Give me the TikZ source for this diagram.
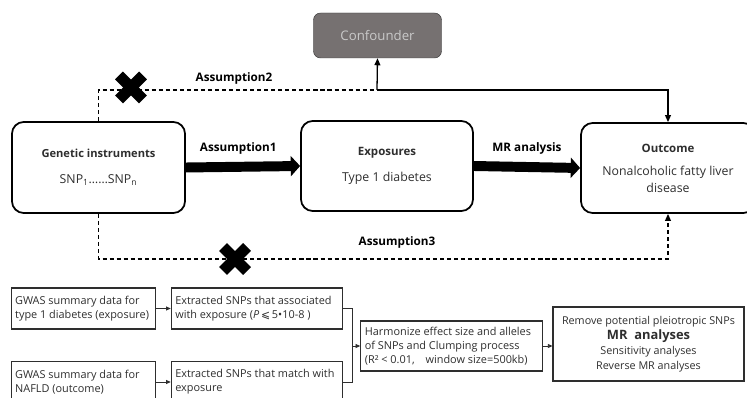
\documentclass[tikz,border=0pt]{standalone}
\usepackage{fontspec}
\setmainfont{Open Sans}
\newfontfamily\symfont{DejaVu Sans}
\usetikzlibrary{arrows.meta}
\definecolor{confgray}{HTML}{767171}
\definecolor{conftext}{HTML}{C9C9C9}
\definecolor{textgray}{HTML}{2E2E2E}

\begin{document}
\begin{tikzpicture}[x=0.03cm, y=-0.03cm,
	main/.style = {draw, line width=1.5pt, rounded corners=10pt, align=center, text=textgray, font=\fontsize{10.5}{14}\selectfont},
	conf/.style = {draw=black!80, fill=confgray, text=conftext, rounded corners=6pt, minimum width=3.84cm, minimum height=1.35cm, font=\fontsize{11.3}{13}\selectfont},
	sub/.style = {draw=textgray, line width=0.9pt, align=flush left, text=textgray, inner xsep=3.5pt, font=\fontsize{9.3}{12}\selectfont},
	lab/.style = {text=black, font=\bfseries\fontsize{10}{12}\selectfont},
	fat/.style = {line width=8.5pt, -{Triangle[width=17pt,length=8pt]}},
	dashline/.style = {line width=1.1pt, dash pattern=on 3.5pt off 2.5pt},
	link/.style = {line width=1.1pt, -{Triangle[width=5pt,length=6pt]}},
	small/.style = {draw=textgray, line width=0.8pt},
	cross/.style = {line width=9.5pt}]

	\path[use as bounding box, clip] (0,0) rectangle (747,398);

	% upper part
	\node[conf] (conf) at (377.5,35.5) {Confounder};
	\node[main, minimum width=5.19cm, minimum height=2.73cm] (gen) at (98.5,167.5) {{\bfseries\fontsize{9.5}{12}\selectfont Genetic instruments}\\[8pt]SNP\textsubscript{1}……SNP\textsubscript{n}};
	\node[main, minimum width=5.16cm, minimum height=2.7cm] (exp) at (387,166) {{\bfseries\fontsize{9.8}{12}\selectfont Exposures}\\[8pt]Type 1 diabetes};
	\node[main, minimum width=5.22cm, minimum height=2.7cm] (out) at (668,168) {{\bfseries\fontsize{9.8}{12}\selectfont Outcome}\\[6pt]Nonalcoholic fatty liver\\disease};

	\coordinate (jct) at (377,90);

	\draw[fat] (gen.east) -- node[lab, above=3pt, xshift=-4pt] (a1) {Assumption1} (exp.west);
	\draw[fat] (exp.east) -- node[lab, above=3pt] (mr) {MR analysis} (out.west);

	\draw[dashline] (gen.north) |- (jct);
	\draw[link] (jct) -- (conf.south);
	\draw[link] (jct) -| (out.north);
	\draw[dashline, -{Triangle[width=5pt,length=6pt]}] (gen.south) |- (235,259) -| (out.south);

	\node[lab] (a2) at (234,78) {Assumption2};
	\node[lab] (a3) at (397,242) {Assumption3};

	\foreach \cx/\cy in {131/87.5, 235/259} {
		\draw[cross] (\cx-12,\cy-12) -- (\cx+12,\cy+12);
		\draw[cross] (\cx-12,\cy+12) -- (\cx+12,\cy-12);
	}

	% lower part
	\node[sub, text width=4.1cm, minimum height=1.23cm] (g1) at (83.5,308.5) {GWAS summary data for\\type 1 diabetes (exposure)};
	\node[sub, text width=4.9cm, minimum height=1.23cm] (e1) at (257,308.5) {Extracted SNPs that associated\\with exposure ({\itshape P}\,{\symfont ⩽}\,5•10-8 )};
	\node[sub, text width=4.1cm, minimum height=1.23cm] (g2) at (83.5,382) {GWAS summary data for\\NAFLD (outcome)};
	\node[sub, text width=4.9cm, minimum height=1.23cm] (e2) at (257,382) {Extracted SNPs that match with\\exposure};
	\node[sub, text width=5.2cm, minimum height=1.5cm] (harm) at (451.5,346) {Harmonize effect size and alleles\\of SNPs and Clumping process\\(R² < 0.01,\quad window size=500kb)};
	\node[sub, align=center, minimum width=5.73cm, minimum height=2.22cm, font=\fontsize{9.2}{12.8}\selectfont] (fin) at (648.5,344) {Remove potential pleiotropic SNPs\\{\bfseries\fontsize{11}{13}\selectfont MR\ \ analyses}\\Sensitivity analyses\\Reverse MR analyses};

	\coordinate (mrg) at (352,346);

	\draw[small, -{Triangle[width=3.5pt,length=4pt]}] (g1) -- (e1);
	\draw[small, -{Triangle[width=3.5pt,length=4pt]}] (g2) -- (e2);
	\draw[small] (e1.east) -| (mrg);
	\draw[small] (e2.east) -| (mrg);
	\draw[small, -{Triangle[width=3.5pt,length=4pt]}] (mrg) -- (harm.west);
	\draw[small, -{Triangle[width=3.5pt,length=4pt]}] (harm.east) -- (harm.east -| fin.west);
\end{tikzpicture}
\end{document}
